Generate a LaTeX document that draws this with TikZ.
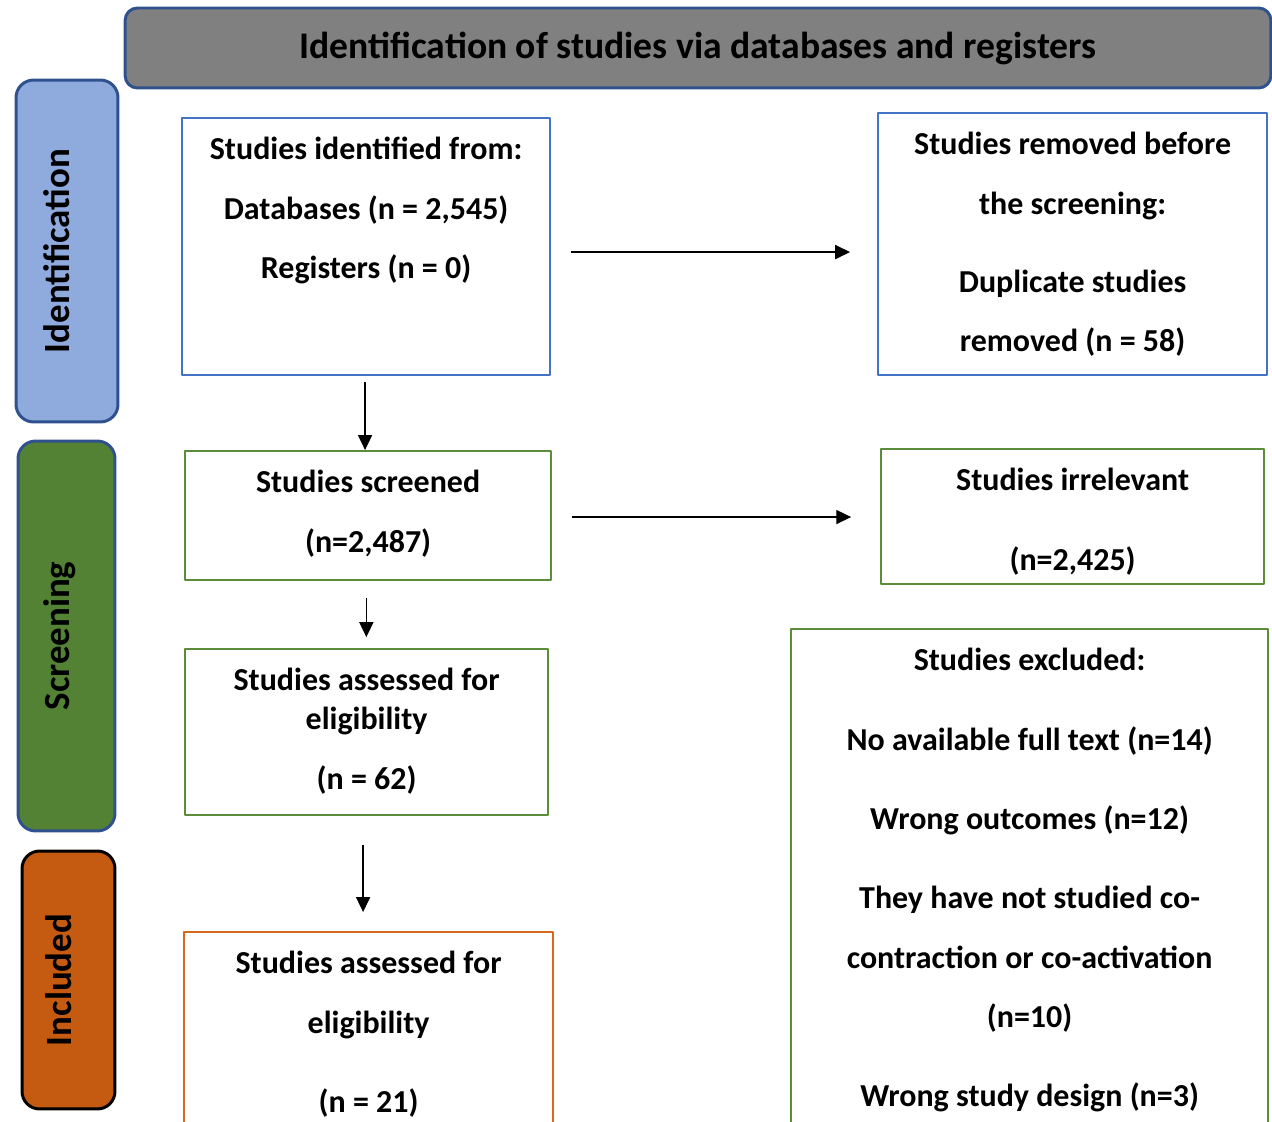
\documentclass[tikz,border=0pt]{standalone}
\usepackage{fontspec}
\setmainfont{Carlito}
\usetikzlibrary{arrows.meta}
\definecolor{bandgray}{HTML}{808080}
\definecolor{bandblue}{HTML}{2F528F}
\definecolor{idblue}{HTML}{8FAADC}
\definecolor{scrgreen}{HTML}{548235}
\definecolor{incorange}{HTML}{C55A11}
\definecolor{boxblue}{HTML}{4472C4}
\definecolor{boxgreen}{HTML}{5B8C3A}
\definecolor{boxorange}{HTML}{D4691F}
% text of a box: width, height, lines (first baseline 42px below the top)
\newcommand{\boxtext}[3]{\parbox[c][#2][t]{#1}{\centering\rule{0pt}{23.8pt}#3\par}}
\begin{document}
\begin{tikzpicture}[x=0.02cm,y=-0.02cm,>={Triangle[length=8.5pt,width=8pt]},line join=round,
  every node/.style={font=\bfseries\fontsize{18.2}{33.8}\selectfont},
  stage/.style={draw=bandblue,line width=1.7pt,rounded corners=10pt,rotate=90,
    font=\bfseries\fontsize{21}{25}\selectfont,text height=14pt,text depth=11pt},
  flowbox/.style={draw=#1,line width=1.3pt,inner sep=0pt,anchor=north west},
  arr/.style={->,line width=0.8pt}]
  \clip (0,0) rectangle (1272,1122);
  % banner and stages
  \node[draw=bandblue,fill=bandgray,line width=1.7pt,rounded corners=7pt,
    minimum width=22.92cm,minimum height=1.6cm,font=\bfseries\fontsize{21.4}{25}\selectfont]
    (banner) at (698,48) {Identification of studies via databases and registers};
  \node[stage,fill=idblue,minimum width=6.84cm,minimum height=2.04cm] (identst) at (67,251) {Identification};
  \node[stage,fill=scrgreen,minimum width=7.8cm,minimum height=1.94cm] (screenst) at (66.5,636) {Screening};
  \node[stage,draw=black,fill=incorange,minimum width=5.16cm,minimum height=1.86cm] (inclst) at (68.5,980) {Included};
  % boxes
  \node[flowbox=boxblue] (ident) at (181,117) {\boxtext{7.36cm}{5.14cm}{Studies identified from:\\
    Databases (n = 2,545)\\ Registers (n = 0)}};
  \node[flowbox=boxblue] (removed) at (877,112) {\boxtext{7.78cm}{5.24cm}{Studies removed before\\
    the screening:\\[10.5pt] Duplicate studies\\ removed (n = 58)}};
  \node[flowbox=boxgreen] (screen) at (184,450) {\boxtext{7.32cm}{2.58cm}{Studies screened\\ (n=2,487)}};
  \node[flowbox=boxgreen] (irrel) at (880,448) {\boxtext{7.66cm}{2.7cm}{Studies irrelevant\\[11.3pt] (n=2,425)}};
  \node[flowbox=boxgreen] (assess) at (184,648) {\boxtext{7.26cm}{3.32cm}{Studies assessed for\\[-11.8pt]
    eligibility\\ (n = 62)}};
  \node[flowbox=boxgreen] (excl) at (790,628) {\boxtext{9.54cm}{10.8cm}{Studies excluded:\\[11.3pt]
    No available full text (n=14)\\[11.3pt] Wrong outcomes (n=12)\\[11.3pt]
    They have not studied co-\\ contraction or co-activation\\ (n=10)\\[11.3pt]
    Wrong study design (n=3)}};
  \node[flowbox=boxorange] (incl) at (183,931) {\boxtext{7.38cm}{4.8cm}{Studies assessed for\\
    eligibility\\[11.3pt] (n = 21)}};
  % arrows
  \draw[arr,shorten <=3.4pt] ([xshift=-0.6pt]ident.south) -- ([xshift=-0.6pt]ident.south |- screen.north);
  \draw[arr,shorten <=11.3pt,shorten >=15.3pt] ([yshift=-3.1pt]ident.east) -- ([yshift=-3.1pt]ident.east -| removed.west);
  \draw[arr,shorten <=11.3pt,shorten >=16.4pt] ([yshift=-0.8pt]screen.east) -- ([yshift=-0.8pt]screen.east -| irrel.west);
  \draw[arr,shorten <=9.6pt,shorten >=6.2pt] ([xshift=-1pt]screen.south) -- ([xshift=-1pt]screen.south |- assess.north);
  \draw[arr,shorten <=16.4pt,shorten >=10.8pt] ([xshift=-2pt]assess.south) -- ([xshift=-2pt]assess.south |- incl.north);
\end{tikzpicture}
\end{document}
